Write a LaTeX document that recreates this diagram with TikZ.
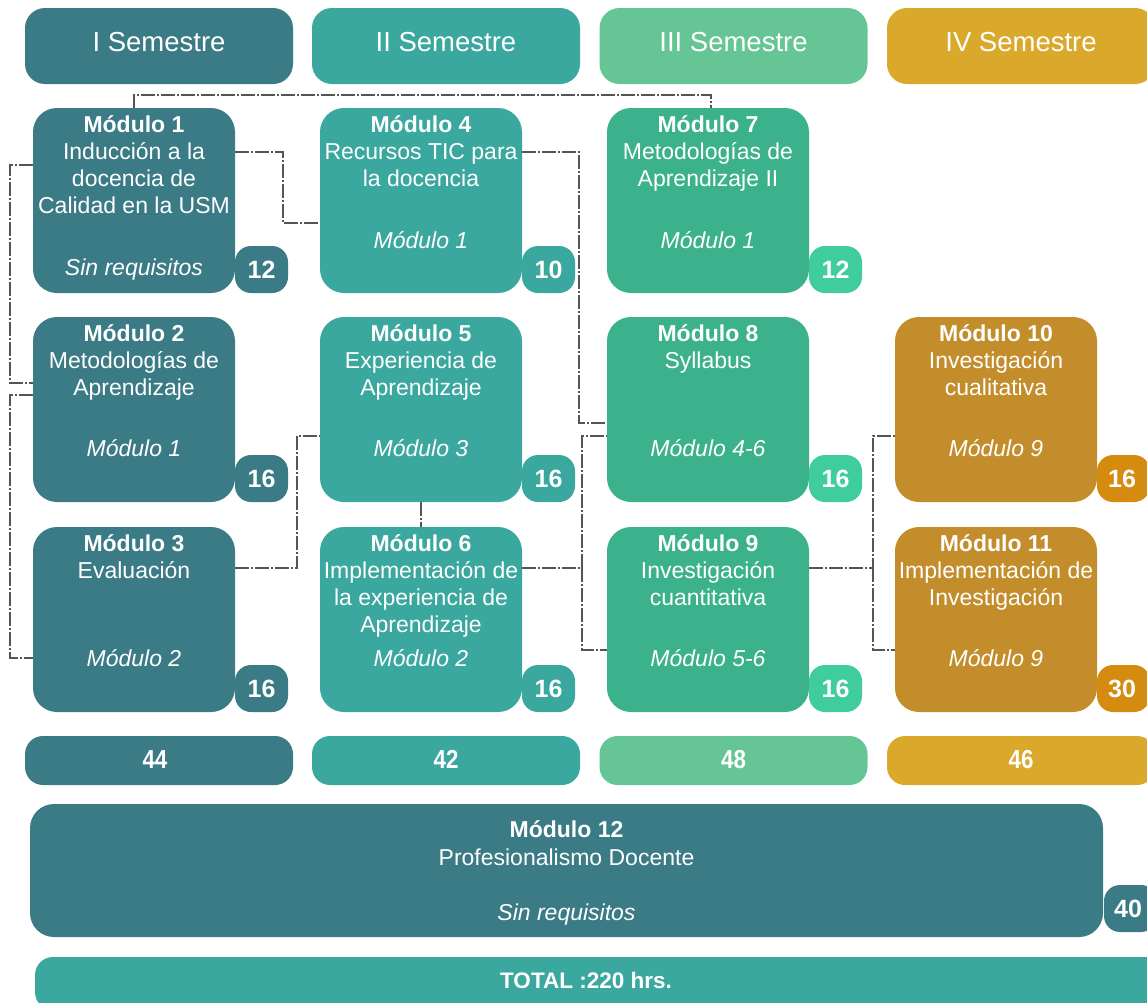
\documentclass[tikz,border=0pt]{standalone}
\usepackage{fontspec}
\setmainfont{Liberation Sans}
\newfontfamily\numfont[FakeStretch=0.86]{Liberation Sans}
\definecolor{c1}{HTML}{3A7B86}
\definecolor{c2}{HTML}{3AA89E}
\definecolor{c3}{HTML}{3BB28B}
\definecolor{c3h}{HTML}{65C595}
\definecolor{c3b}{HTML}{3ECD9B}
\definecolor{c4}{HTML}{C38D2C}
\definecolor{c4h}{HTML}{DAA82A}
\definecolor{c4b}{HTML}{D58B0E}
\definecolor{lineg}{HTML}{555555}
\newcommand\modtxt[5]{%
  \node[ttl] (#1t) at (#2,#3) {#4};
  \foreach \tl [count=\i] in {#5} \node[txt] (#1l\i) at (#2,#3+27*\i) {\tl};
}
\begin{document}
\begin{tikzpicture}[x=1pt,y=-1pt,
  hdr/.style={rounded corners=20pt, minimum width=268pt, minimum height=76pt, inner sep=0pt, outer sep=0pt},
  modbox/.style={rounded corners=24pt, minimum width=202pt, minimum height=185pt, inner sep=0pt, outer sep=0pt},
  badge/.style={rounded corners=16pt, minimum width=53pt, minimum height=47pt, inner sep=0pt, outer sep=0pt},
  totbox/.style={rounded corners=18pt, minimum width=268pt, minimum height=49pt, inner sep=0pt, outer sep=0pt},
  txt/.style={text=white, inner sep=0pt, anchor=base, font=\fontsize{23}{27}\selectfont},
  ttl/.style={txt, font=\fontsize{23}{27}\selectfont\bfseries},
  req/.style={txt, font=\fontsize{23}{27}\selectfont\itshape},
  num/.style={txt, font=\fontsize{25}{27}\selectfont\bfseries},
  totnum/.style={txt, font=\fontsize{26}{27}\selectfont\numfont\bfseries},
  hdt/.style={txt, font=\fontsize{27.5}{32}\selectfont},
  conn/.style={draw=lineg, line width=1.2pt, dash pattern=on 14pt off 2pt on 2pt off 2pt}]
\useasboundingbox (0,0) rectangle (1147,1002);
\clip (0,0) rectangle (1147,1002);
\fill[white] (0,0) rectangle (1147,1002);

% headers
\node[hdr, fill=c1] (h1) at (159,46) {};
\node[hdr, fill=c2] (h2) at (446,46) {};
\node[hdr, fill=c3h] (h3) at (733.5,46) {};
\node[hdr, fill=c4h] (h4) at (1021,46) {};
\node[hdt] (h1t) at (159,51) {I Semestre};
\node[hdt] (h2t) at (446,51) {II Semestre};
\node[hdt] (h3t) at (733.5,51) {III Semestre};
\node[hdt] (h4t) at (1021,51) {IV Semestre};

% module boxes
\node[modbox, fill=c1] (m1) at (134,200.5) {};
\node[modbox, fill=c1] (m2) at (134,409.5) {};
\node[modbox, fill=c1] (m3) at (134,619.5) {};
\node[modbox, fill=c2] (m4) at (421,200.5) {};
\node[modbox, fill=c2] (m5) at (421,409.5) {};
\node[modbox, fill=c2] (m6) at (421,619.5) {};
\node[modbox, fill=c3] (m7) at (708,200.5) {};
\node[modbox, fill=c3] (m8) at (708,409.5) {};
\node[modbox, fill=c3] (m9) at (708,619.5) {};
\node[modbox, fill=c4] (m10) at (996,409.5) {};
\node[modbox, fill=c4] (m11) at (996,619.5) {};

% badges
\node[badge, fill=c1] (b1) at (261.5,269.5) {};
\node[badge, fill=c1] (b2) at (261.5,478.5) {};
\node[badge, fill=c1] (b3) at (261.5,688.5) {};
\node[badge, fill=c2] (b4) at (548.5,269.5) {};
\node[badge, fill=c2] (b5) at (548.5,478.5) {};
\node[badge, fill=c2] (b6) at (548.5,688.5) {};
\node[badge, fill=c3b] (b7) at (835.5,269.5) {};
\node[badge, fill=c3b] (b8) at (835.5,478.5) {};
\node[badge, fill=c3b] (b9) at (835.5,688.5) {};
\node[badge, fill=c4b] (b10) at (1123.5,478.5) {};
\node[badge, fill=c4b] (b11) at (1123.5,688.5) {};
\node[num] (b1t) at (261.5,278.5) {12};
\node[num] (b2t) at (261.5,487.5) {16};
\node[num] (b3t) at (261.5,697.5) {16};
\node[num] (b4t) at (548.5,278.5) {10};
\node[num] (b5t) at (548.5,487.5) {16};
\node[num] (b6t) at (548.5,697.5) {16};
\node[num] (b7t) at (835.5,278.5) {12};
\node[num] (b8t) at (835.5,487.5) {16};
\node[num] (b9t) at (835.5,697.5) {16};
\node[num] (b10t) at (1122,487.5) {16};
\node[num] (b11t) at (1122,697.5) {30};

% module texts
\modtxt{m1}{134}{132}{Módulo 1}{Inducción a la, docencia de, Calidad en la USM}
\node[req] (m1r) at (134,275) {Sin requisitos};
\modtxt{m2}{134}{341}{Módulo 2}{Metodologías de, Aprendizaje}
\node[req] (m2r) at (134,456) {Módulo 1};
\modtxt{m3}{134}{551}{Módulo 3}{Evaluación}
\node[req] (m3r) at (134,666) {Módulo 2};
\modtxt{m4}{421}{132}{Módulo 4}{Recursos TIC para, la docencia}
\node[req] (m4r) at (421,248) {Módulo 1};
\modtxt{m5}{421}{341}{Módulo 5}{Experiencia de, Aprendizaje}
\node[req] (m5r) at (421,456) {Módulo 3};
\modtxt{m6}{421}{551}{Módulo 6}{Implementación de, la experiencia de, Aprendizaje}
\node[req] (m6r) at (421,666) {Módulo 2};
\modtxt{m7}{708}{132}{Módulo 7}{Metodologías de, Aprendizaje II}
\node[req] (m7r) at (708,248) {Módulo 1};
\modtxt{m8}{708}{341}{Módulo 8}{Syllabus}
\node[req] (m8r) at (708,456) {Módulo 4-6};
\modtxt{m9}{708}{551}{Módulo 9}{Investigación, cuantitativa}
\node[req] (m9r) at (708,666) {Módulo 5-6};
\modtxt{m10}{996}{341}{Módulo 10}{Investigación, cualitativa}
\node[req] (m10r) at (996,456) {Módulo 9};
\modtxt{m11}{996}{551}{Módulo 11}{Implementación de, Investigación}
\node[req] (m11r) at (996,666) {Módulo 9};

% connectors
\draw[conn] (m1.north) -- ++(0,-13) -| ([xshift=3pt]m7.north);
\draw[conn] ([yshift=48.5pt]m1.east) -| ([xshift=-37pt,yshift=-22.5pt]m4.west) -- ([yshift=-22.5pt]m4.west);
\draw[conn] ([yshift=35.5pt]m1.west) -| ([xshift=-23pt,yshift=26.5pt]m2.west) -- ([yshift=26.5pt]m2.west);
\draw[conn] ([yshift=14.5pt]m2.west) -| ([xshift=-23pt,yshift=-38.5pt]m3.west) -- ([yshift=-38.5pt]m3.west);
\draw[conn] ([yshift=51.5pt]m3.east) -| ([xshift=-23pt,yshift=-26.5pt]m5.west) -- ([yshift=-26.5pt]m5.west);
\draw[conn] (m5.south) -- (m6.north);
\draw[conn] ([yshift=48.5pt]m4.east) -| ([xshift=-28pt,yshift=-13.5pt]m8.west) -- ([yshift=-13.5pt]m8.west);
\draw[conn] ([yshift=51.5pt]m6.east) -| ([xshift=-25pt,yshift=-26.5pt]m8.west) -- ([yshift=-26.5pt]m8.west);
\draw[conn] ([xshift=-25pt,yshift=51.5pt]m9.west) |- ([yshift=-30.5pt]m9.west);
\draw[conn] ([yshift=51.5pt]m9.east) -| ([xshift=-22pt,yshift=-26.5pt]m10.west) -- ([yshift=-26.5pt]m10.west);
\draw[conn] ([xshift=-22pt,yshift=51.5pt]m11.west) |- ([yshift=-30.5pt]m11.west);

% semester totals
\node[totbox, fill=c1] (s1) at (159,760.5) {};
\node[totbox, fill=c2] (s2) at (446,760.5) {};
\node[totbox, fill=c3h] (s3) at (733.5,760.5) {};
\node[totbox, fill=c4h] (s4) at (1021,760.5) {};
\node[totnum] (s1t) at (155,768) {44};
\node[totnum] (s2t) at (446,768) {42};
\node[totnum] (s3t) at (733.5,768) {48};
\node[totnum] (s4t) at (1021,768) {46};

% module 12
\node[rounded corners=24pt, minimum width=1073pt, minimum height=133pt, inner sep=0pt, fill=c1] (m12) at (566.5,870.5) {};
\node[badge, fill=c1] (b12) at (1130.5,908.5) {};
\node[num] (b12t) at (1128,917.5) {40};
\node[ttl] (m12t) at (566.5,837) {Módulo 12};
\node[txt] (m12l1) at (566.5,865) {Profesionalismo Docente};
\node[req] (m12r) at (566.5,920) {Sin requisitos};

% total
\node[rounded corners=18pt, minimum width=1135pt, minimum height=53pt, inner sep=0pt, fill=c2] (tot) at (602.5,983.5) {};
\node[ttl, font=\fontsize{22.5}{27}\selectfont\bfseries] (tott) at (586,988) {TOTAL :220 hrs.};
\end{tikzpicture}
\end{document}
